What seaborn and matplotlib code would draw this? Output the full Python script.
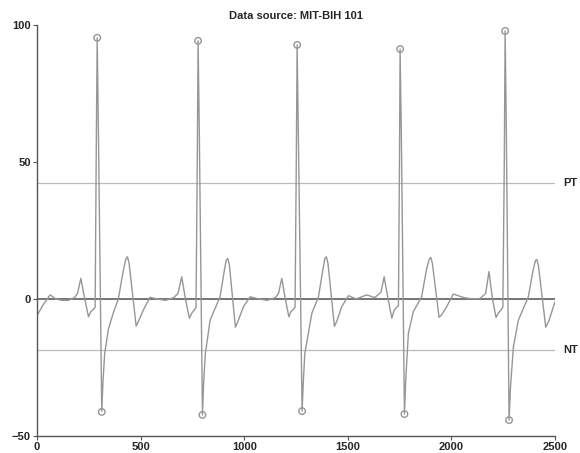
import matplotlib
matplotlib.use('Agg')
import matplotlib.pyplot as plt
import seaborn as sns
import pandas as pd

# ECG trace (sample index, amplitude)
ecg_x = [0, 30, 63, 90, 120, 150, 180, 195, 211, 230, 248, 260, 272, 280, 286, 290,
         296, 312, 318, 326, 344, 368, 392, 415, 428, 436, 444, 478, 490, 513, 545,
         580, 620, 660, 680, 698, 716, 735, 748, 759, 767, 773, 777, 783, 798, 804,
         812, 835, 883, 905, 913, 920, 928, 957, 970, 996, 1028, 1070, 1110, 1150,
         1165, 1181, 1198, 1215, 1226, 1237, 1245, 1251, 1255, 1261, 1279, 1285,
         1292, 1326, 1358, 1380, 1389, 1396, 1404, 1435, 1447, 1470, 1503, 1540,
         1591, 1630, 1660, 1675, 1694, 1712, 1724, 1736, 1744, 1749, 1752, 1758,
         1773, 1779, 1792, 1816, 1856, 1880, 1893, 1900, 1908, 1940, 1955, 1977,
         2009, 2060, 2100, 2138, 2165, 2181, 2198, 2215, 2228, 2239, 2248, 2255,
         2259, 2265, 2278, 2285, 2299, 2323, 2371, 2394, 2405, 2412, 2420, 2455,
         2470, 2500]
ecg_y = [-6, -2, 1.5, 0, -0.5, -0.5, 0.5, 2, 7.5, 0, -6.5, -4.5, -3.8, -3, 60, 95.3,
         60, -41, -30, -20, -11, -5, 0, 10, 14.5, 15.4, 13, -9.9, -8, -4, 0.6,
         0, -0.5, 0.5, 2, 8.1, 0, -7, -5, -4, -3, 50, 94.2, 60, -42.3, -30,
         -20, -7.7, 0.8, 11, 14.2, 14.8, 12.5, -10.3, -8, -2.8, 0.8, 0, -0.5, 0.5,
         2, 7.5, 0, -6.5, -4.5, -3.8, -3, 50, 92.7, 60, -40.9, -30,
         -20, -5.2, 0.8, 11, 14.8, 15.4, 13, -10, -8, -2.8, 1.2, 0,
         1.5, 0.5, 2.5, 8.1, 0, -7, -4, -3, -2.5, 50, 91.2, 60,
         -42, -30, -12.5, -4.6, 0.8, 11, 14.6, 15.2, 13, -6.7, -5.5, -2.8,
         1.8, 0.5, 0, 0.2, 2, 10, 0, -6.7, -5, -4, -3, 50,
         97.8, 60, -44.2, -32, -17.4, -7.7, 0.8, 10.5, 14, 14.4, 12, -10.3,
         -8, -1]

# detected R peaks and S minima
r_peak_x = [290, 777, 1255, 1752, 2259]
r_peak_y = [95.3, 94.2, 92.7, 91.2, 97.8]
s_min_x = [312, 798, 1279, 1773, 2278]
s_min_y = [-41.2, -42.3, -40.9, -42.0, -44.2]

# thresholds
pt_level = 42.3
nt_level = -18.5

ecg = pd.DataFrame({'sample': ecg_x, 'amp': ecg_y})
peaks = pd.DataFrame({'sample': r_peak_x + s_min_x, 'amp': r_peak_y + s_min_y})

sns.set_style('white')
plt.rcParams['font.family'] = ['Liberation Sans', 'DejaVu Sans']

fig = plt.figure(figsize=(5.8, 4.53), dpi=100)
ax = fig.add_axes([0.064, 0.0375, 0.893, 0.9075])

ax.axhline(pt_level, color='#bbbbbb', lw=0.9, zorder=1)
ax.axhline(nt_level, color='#bbbbbb', lw=0.9, zorder=1)
ax.axhline(0, color='#505050', lw=1.1, zorder=1)

sns.lineplot(data=ecg, x='sample', y='amp', sort=False, estimator=None,
             color='#969696', lw=1.0, ax=ax, zorder=2)
sns.scatterplot(data=peaks, x='sample', y='amp', s=22, facecolors='none',
                edgecolor='#959595', linewidth=1.0, ax=ax, zorder=3)

ax.text(2540, pt_level, 'PT', fontsize=8, fontweight='bold', va='center', ha='left')
ax.text(2540, nt_level, 'NT', fontsize=8, fontweight='bold', va='center', ha='left')

ax.set_xlim(0, 2500)
ax.set_ylim(-50, 100)
ax.set_xticks([0, 500, 1000, 1500, 2000, 2500])
ax.set_yticks([-50, 0, 50, 100])
ax.set_xlabel('')
ax.set_ylabel('')
ax.set_title('Data source: MIT-BIH 101', fontsize=8, fontweight='bold', pad=4)

sns.despine(ax=ax)
for sp in ['left', 'bottom']:
    ax.spines[sp].set_color('#555555')
    ax.spines[sp].set_linewidth(1.0)
ax.tick_params(axis='both', direction='out', length=3, width=0.8, color='#555555',
               labelsize=8, pad=1.5, bottom=True, left=True)
for lab in ax.get_xticklabels() + ax.get_yticklabels():
    lab.set_fontweight('bold')

fig.savefig('out.png', dpi=100)
